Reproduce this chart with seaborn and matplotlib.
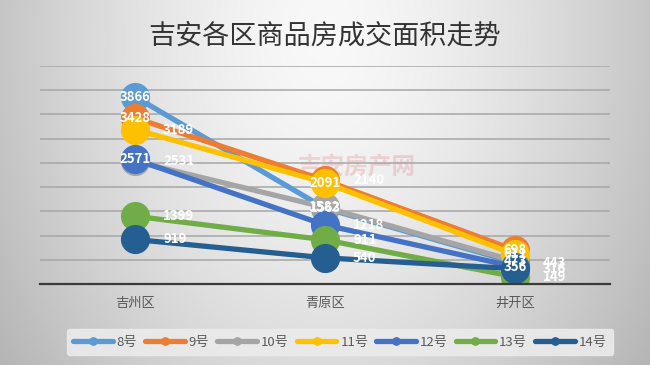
import numpy as np
import pandas as pd
import matplotlib
matplotlib.use("Agg")
import matplotlib.pyplot as plt
import seaborn as sns

# ---- data ----
districts = ["吉州区", "青原区", "井开区"]
series_names = ["8号", "9号", "10号", "11号", "12号", "13号", "14号"]
s8 = [3866, 1563, 443]
s9 = [3428, 2140, 698]
s10 = [2531, 1582, 473]
s11 = [3189, 2091, 611]
s12 = [2571, 1218, 356]
s13 = [1399, 911, 149]
s14 = [919, 540, 316]
title = "吉安各区商品房成交面积走势"

values = [s8, s9, s10, s11, s12, s13, s14]
colors = ["#5B9BD5", "#ED7D31", "#A5A5A5", "#FFC000", "#4472C4", "#70AD47", "#255E91"]
# label placement style per series: 'c' centered on marker, 'r' right of marker
label_pos = {
    "8号": "ccr", "9号": "crc", "10号": "rcc", "11号": "rcc",
    "12号": "crc", "13号": "rrr", "14号": "rrr",
}

rows = []
for name, vals in zip(series_names, values):
    for d, v in zip(districts, vals):
        rows.append({"区": d, "面积": v, "期": name})
df = pd.DataFrame(rows)

sns.set_theme(style="white")
plt.rcParams["font.family"] = ["Noto Sans CJK SC", "DejaVu Sans"]

fig = plt.figure(figsize=(6.5, 3.65), dpi=100)

# gradient background
bg = fig.add_axes([0, 0, 1, 1], zorder=-10)
h, w = 365, 650
yy, xx = np.mgrid[0:h, 0:w]
dx = (xx - w / 2) / (w / 2)
dy = (yy - 40) / h
r = np.sqrt(dx ** 2 * 1.0 + dy ** 2 * 0.6)
val = 0.975 - 0.2 * np.clip(r, 0, 1.2) ** 1.5
img = np.dstack([val, val, val])
bg.imshow(img, aspect="auto", extent=[0, 1, 0, 1])
bg.axis("off")

ax = fig.add_axes([40 / 650, (365 - 284) / 365, 570 / 650, 218 / 365])
ax.patch.set_alpha(0)

# watermark (behind the lines)
ax.text(0.555, 0.535, "吉安房产网", transform=ax.transAxes, fontsize=17, color="#e06060",
        alpha=0.22, ha="center", va="center", fontweight="bold", zorder=0)

pal = dict(zip(series_names, colors))
sns.lineplot(data=df, x="区", y="面积", hue="期", hue_order=series_names,
             palette=pal, marker="o", markersize=21, linewidth=3.8,
             markeredgewidth=0, sort=False, ax=ax, legend=True)

ax.set_xlim(-0.5, 2.5)
ax.set_ylim(0, 4500)
ax.set_yticks(np.arange(0, 4501, 500))
ax.yaxis.grid(True, color="#a6a6a6", linewidth=1.1)
ax.set_axisbelow(True)
ax.set_yticklabels([])
ax.tick_params(axis="y", length=0)
for sp in ["top", "right", "left"]:
    ax.spines[sp].set_visible(False)
ax.spines["bottom"].set_color("#3a3a3a")
ax.spines["bottom"].set_linewidth(1.6)
ax.set_xticks(range(len(districts)))
ax.set_xticklabels(districts, fontsize=9.5, color="#595959")
ax.tick_params(axis="x", which="major", length=0, pad=9)
ax.set_xticks([-0.5, 0.5, 1.5, 2.5], minor=True)
ax.tick_params(axis="x", which="minor", length=6, width=1.2, color="#3a3a3a", direction="out")
ax.set_xlabel("")
ax.set_ylabel("")

# data labels
for name, vals in zip(series_names, values):
    for i, v in enumerate(vals):
        pos = label_pos[name][i]
        if pos == "c":
            ax.annotate(str(v), (i, v), ha="center", va="center", fontsize=9.5,
                        color="white", fontweight="bold", zorder=10)
        else:
            ax.annotate(str(v), (i, v), xytext=(28, 0), textcoords="offset pixels",
                        ha="left", va="center", fontsize=9.5, color="white",
                        fontweight="bold", zorder=10)

# title
fig.text(0.5, 0.9, title, ha="center", va="center", fontsize=19.5, color="#333333")

# legend
handles, labels = ax.get_legend_handles_labels()
ax.get_legend().remove()
leg = fig.legend(handles, labels, loc="center", bbox_to_anchor=(0.523, 0.063), ncol=7,
                 frameon=True, fontsize=9.5, markerscale=0.3, handlelength=3.0,
                 handletextpad=0.3, columnspacing=0.6, borderpad=0.5)
leg.get_frame().set_facecolor("#ebebeb")
leg.get_frame().set_edgecolor("#ebebeb")
leg.get_frame().set_alpha(0.9)
for t in leg.get_texts():
    t.set_color("#595959")

fig.savefig("out.png", dpi=100)
